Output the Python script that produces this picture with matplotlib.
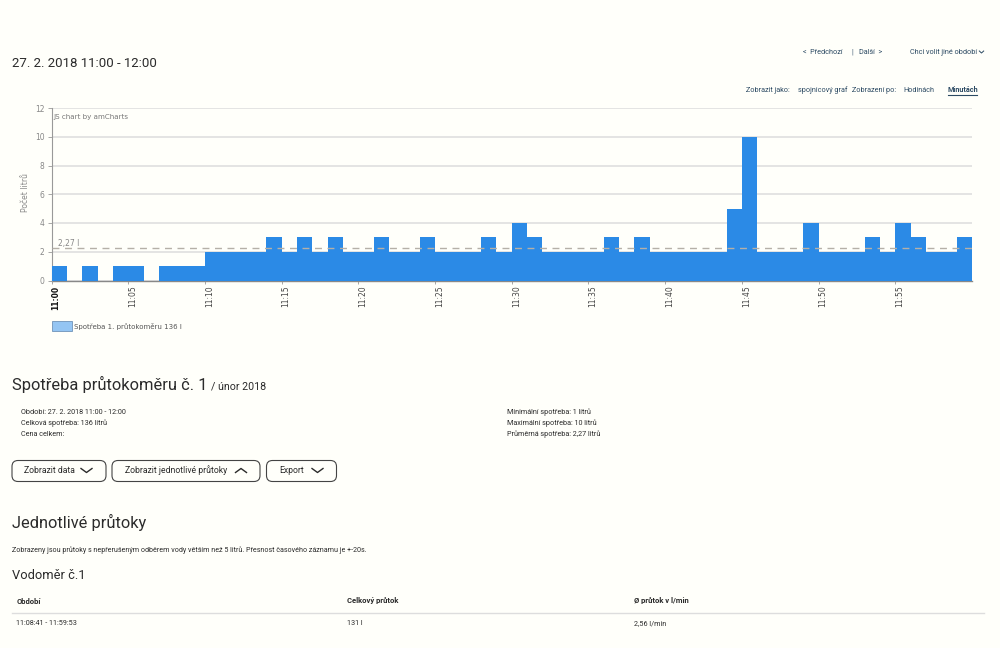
import numpy as np
import matplotlib
matplotlib.use("Agg")
import matplotlib.pyplot as plt
from matplotlib.patches import FancyBboxPatch, Rectangle

# litres per minute, 11:00 - 11:59
minutes = list(range(60))
litres = [1, 0, 1, 0, 1, 1, 0, 1, 1, 1,
          2, 2, 2, 2, 3, 2, 3, 2, 3, 2,
          2, 3, 2, 2, 3, 2, 2, 2, 3, 2,
          4, 3, 2, 2, 2, 2, 3, 2, 3, 2,
          2, 2, 2, 2, 5, 10, 2, 2, 2, 4,
          2, 2, 2, 3, 2, 4, 3, 2, 2, 3]
average = 2.27
tick_minutes = [0, 5, 10, 15, 20, 25, 30, 35, 40, 45, 50, 55]
tick_labels = ["11:00", "11:05", "11:10", "11:15", "11:20", "11:25",
               "11:30", "11:35", "11:40", "11:45", "11:50", "11:55"]
y_ticks = [0, 2, 4, 6, 8, 10, 12]

BG = "#fffffa"
BLUE = "#2b8ae6"
DARK = "#2b2b2b"
NAVY = "#2c4a63"
W, H = 1000, 648

plt.rcParams["font.family"] = ["Roboto", "DejaVu Sans"]
fig = plt.figure(figsize=(W / 100, H / 100), dpi=100, facecolor=BG)

# Page layer in pixel coordinates
page = fig.add_axes([0, 0, 1, 1])
page.set_xlim(0, W)
page.set_ylim(H, 0)
page.axis("off")


def txt(x, y, s, size=5.2, color=DARK, **kw):
    kw.setdefault("va", "center")
    page.text(x, y, s, fontsize=size, color=color, **kw)


def chevron(x, y, up=False, w=5.5, h=4, color=DARK, lw=1.0):
    d = -h if up else h
    page.plot([x - w, x, x + w], [y - d / 2, y + d / 2, y - d / 2], color=color, lw=lw)


def button(x, y, w, h):
    page.add_patch(FancyBboxPatch((x + 6, y + 6), w - 12, h - 12, boxstyle="round,pad=6",
                                  fc="none", ec="#444444", lw=0.8))


# Header
txt(12, 63.5, "27. 2. 2018 11:00 - 12:00", size=9.5)
txt(803, 52, "<  Předchozí", size=5.2, color=NAVY)
txt(851, 52, "|", size=5.2, color=NAVY)
txt(859, 52, "Další  >", size=5.2, color=NAVY)
txt(910, 52, "Chci volit jiné období", size=5.2, color=NAVY)
chevron(981.5, 52, w=2.2, h=2, color=NAVY, lw=0.7)
txt(746, 90, "Zobrazit jako:", size=5.2, color=NAVY)
txt(798, 90, "spojnicový graf", size=5.2, color=NAVY)
txt(852, 90, "Zobrazení po:", size=5.2, color=NAVY)
txt(903, 90, "Hodinách", size=5.2, color=NAVY)
txt(947.5, 90, "Minutách", size=5.2, color=NAVY, fontweight="bold")
page.plot([947.5, 977], [94.5, 94.5], color=NAVY, lw=0.8)

# Chart
ax = fig.add_axes([51.5 / W, 1 - 280.5 / H, 920.5 / W, 172.5 / H], facecolor=BG)
ax.bar(minutes, litres, width=1, align="edge", color=BLUE, linewidth=0, zorder=3)
ax.plot([0, 60], [0, 0], color="#888888", lw=1, zorder=2, clip_on=False)
ax.axhline(average, color="#b5b0a8", lw=1, ls=(0, (5, 4)), zorder=4)
ax.text(0.4, average + 0.02, "2,27 l", fontsize=5.5, color="#888888", va="bottom", ha="left",
        family="DejaVu Sans", zorder=5)
ax.text(0.12, 11.4, "JS chart by amCharts", fontsize=5.1, color="#777777", va="center",
        family="DejaVu Sans")
ax.set_xlim(0, 60)
ax.set_ylim(0, 12)
ax.set_yticks(y_ticks)
ax.set_xticks(tick_minutes)
ax.set_xticklabels(tick_labels, rotation=90, ha="left", family="DejaVu Sans", fontsize=5.5,
                   color="#444444")
ax.get_xticklabels()[0].set_fontweight("bold")
ax.get_xticklabels()[0].set_color("#111111")
ax.tick_params(axis="x", length=2.5, width=0.6, color="#999999", pad=1.2)
ax.tick_params(axis="y", length=3, width=0.6, color="#999999", pad=2, labelsize=5.5,
               labelcolor="#888888", labelfontfamily="DejaVu Sans")
ax.grid(axis="y", color="#dcdcdc", lw=1.1, zorder=1)
ax.set_axisbelow(True)
for side in ["top", "right", "bottom"]:
    ax.spines[side].set_visible(False)
ax.spines["left"].set_color("#999999")
ax.spines["left"].set_linewidth(0.8)
txt(25.5, 193, "Počet litrů", size=5.5, color="#888888", rotation=90, ha="center",
    family="DejaVu Sans")

# Legend
page.add_patch(Rectangle((51.5, 320.5), 20, 10, fc="#94c5f3", ec="#6f93b8", lw=0.6))
txt(74, 326, "Spotřeba 1. průtokoměru 136 l", size=5.0, color="#555555", family="DejaVu Sans")

# Summary block
txt(12, 384.5, "Spotřeba průtokoměru č. 1", size=11.9)
txt(211, 386, "/ únor 2018", size=7.7)
txt(21, 412, "Období: 27. 2. 2018 11:00 - 12:00", size=5.2)
txt(21, 423, "Celková spotřeba: 136 litrů", size=5.2)
txt(21, 434, "Cena celkem:", size=5.2)
txt(507, 412, "Minimální spotřeba: 1 litrů", size=5.2)
txt(507, 423, "Maximální spotřeba: 10 litrů", size=5.2)
txt(507, 434, "Průměrná spotřeba: 2,27 litrů", size=5.2)

# Buttons
button(12, 460.5, 94, 21)
button(112, 460.5, 148, 21)
button(266.5, 460.5, 70, 21)
txt(24.5, 470.5, "Zobrazit data", size=6.2)
chevron(86.5, 470.5)
txt(125, 470.5, "Zobrazit jednotlivé průtoky", size=6.2)
chevron(241, 470.5, up=True)
txt(279.5, 470.5, "Export", size=6.2)
chevron(317.5, 470.5)

# Flow table
txt(12, 522.5, "Jednotlivé průtoky", size=11.8)
txt(12, 550, "Zobrazeny jsou průtoky s nepřerušeným odběrem vody větším než 5 litrů. "
    "Přesnost časového záznamu je +-20s.", size=5.15)
txt(12, 575.5, "Vodoměr č.1", size=9.3)
txt(16.5, 601, "Období", size=5.5, fontweight="bold")
txt(347, 601, "Celkový průtok", size=5.5, fontweight="bold")
txt(634, 601, "Ø průtok v l/min", size=5.5, fontweight="bold")
page.plot([12, 984], [612.5, 612.5], color="#dddddd", lw=1)
txt(16.5, 623.5, "11:08:41 - 11:59:53", size=5.2)
txt(347, 623.5, "131 l", size=5.2)
txt(634, 623.5, "2,56 l/min", size=5.2)

fig.savefig("out.png", dpi=100, facecolor=BG)
